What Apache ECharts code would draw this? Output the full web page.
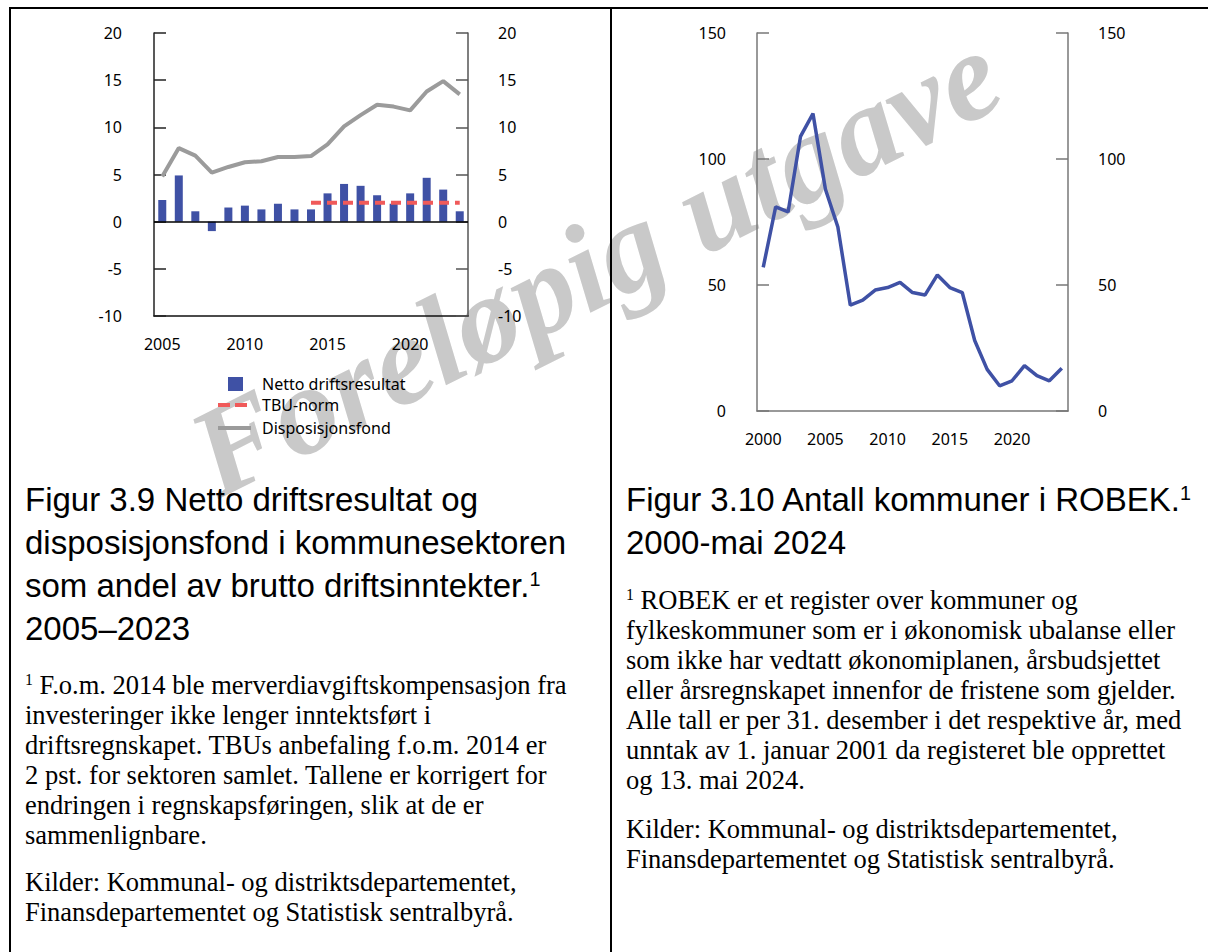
<!DOCTYPE html>
<html><head><meta charset="utf-8">
<script src="https://cdn.jsdelivr.net/npm/echarts@6/dist/echarts.min.js"></script>
<style>
html,body{margin:0;padding:0;background:#fff;}
#wrap{position:relative;width:1208px;height:952px;overflow:hidden;background:#fff;}
#chart{position:absolute;left:0;top:0;width:1208px;height:952px;z-index:1;}
.b{position:absolute;background:#000;z-index:3;}
.title{position:absolute;font-family:'Liberation Sans',Arial,sans-serif;font-size:33px;line-height:43px;color:#000;z-index:2;white-space:nowrap;}
.note{position:absolute;font-family:'Liberation Serif','Times New Roman',serif;font-size:26.5px;line-height:30px;color:#000;z-index:2;white-space:nowrap;}
.sup{font-size:60%;position:relative;top:-0.55em;line-height:0;}
</style></head>
<body>
<div id="wrap">
  <div id="chart"></div>
  <div class="b" style="left:9px;top:7px;width:1199px;height:2px;"></div>
  <div class="b" style="left:9px;top:7px;width:2px;height:945px;"></div>
  <div class="b" style="left:610px;top:7px;width:2px;height:945px;"></div>

  <div class="title" style="left:25px;top:478px;">Figur 3.9 Netto driftsresultat og<br>disposisjonsfond i kommunesektoren<br>som andel av brutto driftsinntekter.<span class="sup">1</span><br>2005–2023</div>
  <div class="title" style="left:626px;top:478px;">Figur 3.10 Antall kommuner i ROBEK.<span class="sup">1</span><br>2000-mai 2024</div>

  <div class="note" style="left:25px;top:670px;"><span class="sup">1</span> F.o.m. 2014 ble merverdiavgiftskompensasjon fra<br>investeringer ikke lenger inntektsført i<br>driftsregnskapet. TBUs anbefaling f.o.m. 2014 er<br>2 pst. for sektoren samlet. Tallene er korrigert for<br>endringen i regnskapsføringen, slik at de er<br>sammenlignbare.</div>
  <div class="note" style="left:25px;top:867px;">Kilder: Kommunal- og distriktsdepartementet,<br>Finansdepartementet og Statistisk sentralbyrå.</div>

  <div class="note" style="left:626px;top:585px;"><span class="sup">1</span> ROBEK er et register over kommuner og<br>fylkeskommuner som er i økonomisk ubalanse eller<br>som ikke har vedtatt økonomiplanen, årsbudsjettet<br>eller årsregnskapet innenfor de fristene som gjelder.<br>Alle tall er per 31. desember i det respektive år, med<br>unntak av 1. januar 2001 da registeret ble opprettet<br>og 13. mai 2024.</div>
  <div class="note" style="left:626px;top:814px;">Kilder: Kommunal- og distriktsdepartementet,<br>Finansdepartementet og Statistisk sentralbyrå.</div>
</div>
<script>
// ---- Figure 3.9 data ----
const years1 = ['2005','2006','2007','2008','2009','2010','2011','2012','2013','2014','2015','2016','2017','2018','2019','2020','2021','2022','2023'];
const netto = [2.3, 4.9, 1.1, -1.0, 1.5, 1.7, 1.3, 1.9, 1.3, 1.3, 3.0, 4.0, 3.8, 2.8, 1.9, 3.0, 4.65, 3.4, 1.1];
const tbuNorm = [null, null, null, null, null, null, null, null, null, 2, 2, 2, 2, 2, 2, 2, 2, 2, 2];
const dispFond = [4.8, 7.8, 7.0, 5.2, 5.8, 6.3, 6.4, 6.85, 6.85, 6.95, 8.2, 10.1, 11.3, 12.4, 12.2, 11.8, 13.8, 14.9, 13.5];
const yTicks1 = [-10, -5, 0, 5, 10, 15, 20];

// ---- Figure 3.10 data ----
const years2 = ['2000','2001','2002','2003','2004','2005','2006','2007','2008','2009','2010','2011','2012','2013','2014','2015','2016','2017','2018','2019','2020','2021','2022','2023','2024'];
const robek = [57, 81, 79, 109, 118, 88, 73, 42, 44, 48, 49, 51, 47, 46, 54, 49, 47, 28, 16.5, 10, 12, 18, 14, 12, 17];
const yTicks2 = [0, 50, 100, 150];

const names = ['Netto driftsresultat', 'TBU-norm', 'Disposisjonsfond'];
const watermark = 'Foreløpig utgave';

const FONT = 'Noto Sans';
const lbl = {color:'#000', fontFamily:FONT, fontSize:16};

function yAx(grid, ticks, pos, margin, col){
  return {
    gridIndex:grid, type:'value', position:pos,
    min:ticks[0], max:ticks[ticks.length-1], interval:ticks[1]-ticks[0],
    axisLine:{show:true, lineStyle:{color:col, width:1.5}},
    axisTick:{show:true, inside:true, length:12, lineStyle:{color:col, width:1.5}},
    axisLabel:Object.assign({margin:margin}, lbl),
    splitLine:{show:false}
  };
}
function xAx(grid, data, col){
  return {
    gridIndex:grid, type:'category', data:data, boundaryGap:true,
    axisLine:{onZero:false, lineStyle:{color:col, width:1.5}},
    axisTick:{show:false},
    axisLabel:Object.assign({interval:4, margin:20}, lbl),
    splitLine:{show:false}
  };
}
function legendText(pad){ return Object.assign({padding:[0,0,0,pad]}, lbl); }

const chart = echarts.init(document.getElementById('chart'), null, {renderer:'svg', width:1208, height:952});
chart.setOption({
  animation:false,
  backgroundColor:'transparent',
  grid:[
    {left:154, top:33, width:314, height:283},
    {left:757, top:33, width:311, height:378}
  ],
  xAxis:[ xAx(0, years1, '#111'), xAx(1, years2, '#777') ],
  yAxis:[
    yAx(0, yTicks1, 'left', 32, '#222'),
    yAx(0, yTicks1, 'right', 30, '#555'),
    yAx(1, yTicks2, 'left', 31, '#777'),
    yAx(1, yTicks2, 'right', 30, '#777')
  ],
  legend:[
    {data:[{name:names[0], icon:'rect'}], left:228, top:376, padding:0, orient:'vertical',
     itemWidth:15, itemHeight:14, itemStyle:{borderWidth:0}, textStyle:legendText(14)},
    {data:[{name:names[1], icon:'path://M0,0M0,14M0,5H12V9H0ZM17,5H29V9H17Z'}], left:218, top:397, padding:0, orient:'vertical',
     itemWidth:29, itemHeight:14, itemStyle:{borderWidth:0}, textStyle:legendText(10)},
    {data:[{name:names[2], icon:'path://M0,0M0,14M0,5H33V9H0Z'}], left:218, top:420, padding:0, orient:'vertical',
     itemWidth:33, itemHeight:14, itemStyle:{borderWidth:0}, textStyle:legendText(6)}
  ],
  graphic:[{
    type:'text', x:595, y:263, rotation:26.6*Math.PI/180, z:0, silent:true,
    style:{text:watermark, font:'italic bold 126px "Liberation Serif"', fill:'#c9c9c9', textAlign:'center', textVerticalAlign:'middle'}
  }],
  series:[
    {name:names[0], type:'bar', xAxisIndex:0, yAxisIndex:0, data:netto, barWidth:8, z:3,
     itemStyle:{color:'#3F51A5'},
     markLine:{silent:true, symbol:'none', label:{show:false}, lineStyle:{color:'#000', width:1.5, type:'solid'}, data:[{yAxis:0}]}},
    {name:names[1], type:'line', xAxisIndex:0, yAxisIndex:0, data:tbuNorm, symbol:'none', z:4,
     itemStyle:{color:'#F05A5A'}, lineStyle:{color:'#F05A5A', width:4, type:[10,6]}},
    {name:names[2], type:'line', xAxisIndex:0, yAxisIndex:0, data:dispFond, symbol:'none', z:5,
     itemStyle:{color:'#9B9B9B'}, lineStyle:{color:'#9B9B9B', width:4}},
    {name:'ROBEK', type:'line', xAxisIndex:1, yAxisIndex:2, data:robek, symbol:'none', z:5,
     itemStyle:{color:'#3F51A5'}, lineStyle:{color:'#3F51A5', width:3.5}}
  ]
});
</script>
</body></html>
